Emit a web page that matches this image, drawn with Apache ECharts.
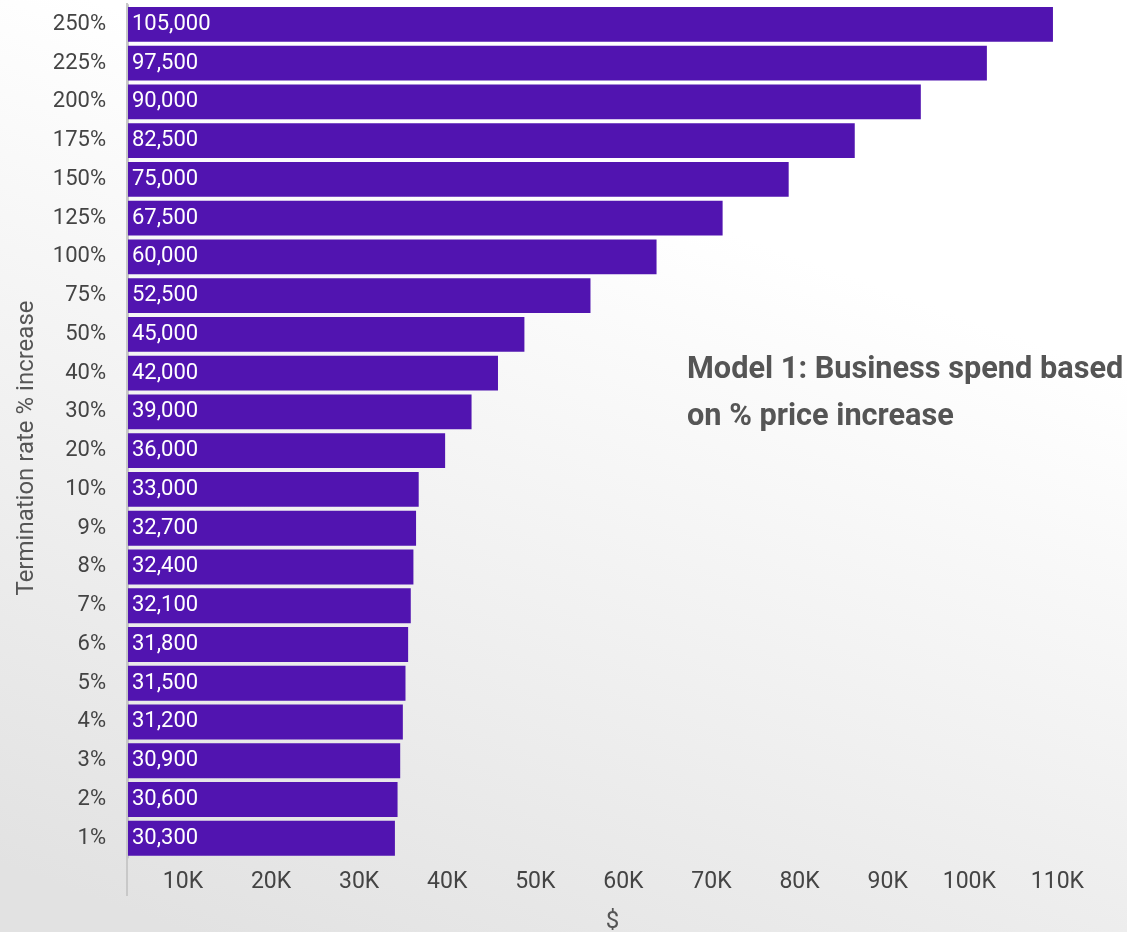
<!DOCTYPE html>
<html>
<head>
<meta charset="utf-8">
<script src="https://cdn.jsdelivr.net/npm/echarts@6/dist/echarts.min.js"></script>
<style>
html,body{margin:0;padding:0;width:1127px;height:932px;overflow:hidden;}
body{background:linear-gradient(200deg,#ffffff 28%,#e2e2e2 95%);}
#chart{width:1127px;height:932px;}
</style>
</head>
<body>
<div id="chart"></div>
<script>
const categories = ['250%','225%','200%','175%','150%','125%','100%','75%','50%','40%','30%','20%','10%','9%','8%','7%','6%','5%','4%','3%','2%','1%'];
const spend = [105000,97500,90000,82500,75000,67500,60000,52500,45000,42000,39000,36000,33000,32700,32400,32100,31800,31500,31200,30900,30600,30300];
const xTicks = {min:0, max:110000, interval:10000};
const titleText = 'Model 1: Business spend based\non % price increase';
const xName = '$';
const yName = 'Termination rate % increase';

const chart = echarts.init(document.getElementById('chart'), null, {renderer:'canvas'});
chart.setOption({
  backgroundColor: 'transparent',
  animation: false,
  textStyle: {fontFamily: 'Roboto'},
  title: {
    text: titleText,
    left: 682, top: 342,
    textStyle: {fontFamily:'Roboto', fontWeight:'bold', fontSize:30.7, color:'#555555', lineHeight:47}
  },
  grid: {left:128, right:30, top:5, bottom:74.4, containLabel:false, outerBoundsMode:'none'},
  xAxis: {
    type:'value', min:xTicks.min, max:xTicks.max, interval:xTicks.interval,
    name:xName, nameLocation:'middle', nameGap:52,
    nameTextStyle:{fontFamily:'Roboto', fontSize:24, color:'#555555'},
    axisLine:{show:false}, axisTick:{show:false}, splitLine:{show:false},
    axisLabel:{
      fontFamily:'Roboto', fontSize:23, color:'#444444', margin:13,
      align:'right', padding:[0,13,0,0],
      formatter: v => v === 0 ? '' : (v/1000) + 'K'
    }
  },
  yAxis: {
    type:'category', data:categories, inverse:true,
    axisLine:{show:true, lineStyle:{color:'#c8c8c8', width:2}},
    axisTick:{show:false},
    axisLabel:{fontFamily:'Roboto', fontSize:22, color:'#444444', margin:22}
  },
  graphic: [
    {type:'line', shape:{x1:127, y1:3, x2:127, y2:896}, style:{stroke:'#c8c8c8', lineWidth:2}, z:-1},
    {type:'text', x:27, y:448, rotation:Math.PI/2,
     style:{text:yName, font:'24px Roboto', fill:'#555555', textAlign:'center', textVerticalAlign:'middle'}}
  ],
  series: [{
    type:'bar', data:spend, barCategoryGap:'10%',
    itemStyle:{color:'#5114b0'},
    label:{show:true, position:'insideLeft', distance:4, color:'#ffffff', fontFamily:'Roboto', fontSize:22,
      formatter: p => p.value.toLocaleString('en-US')}
  }]
});
</script>
</body>
</html>
